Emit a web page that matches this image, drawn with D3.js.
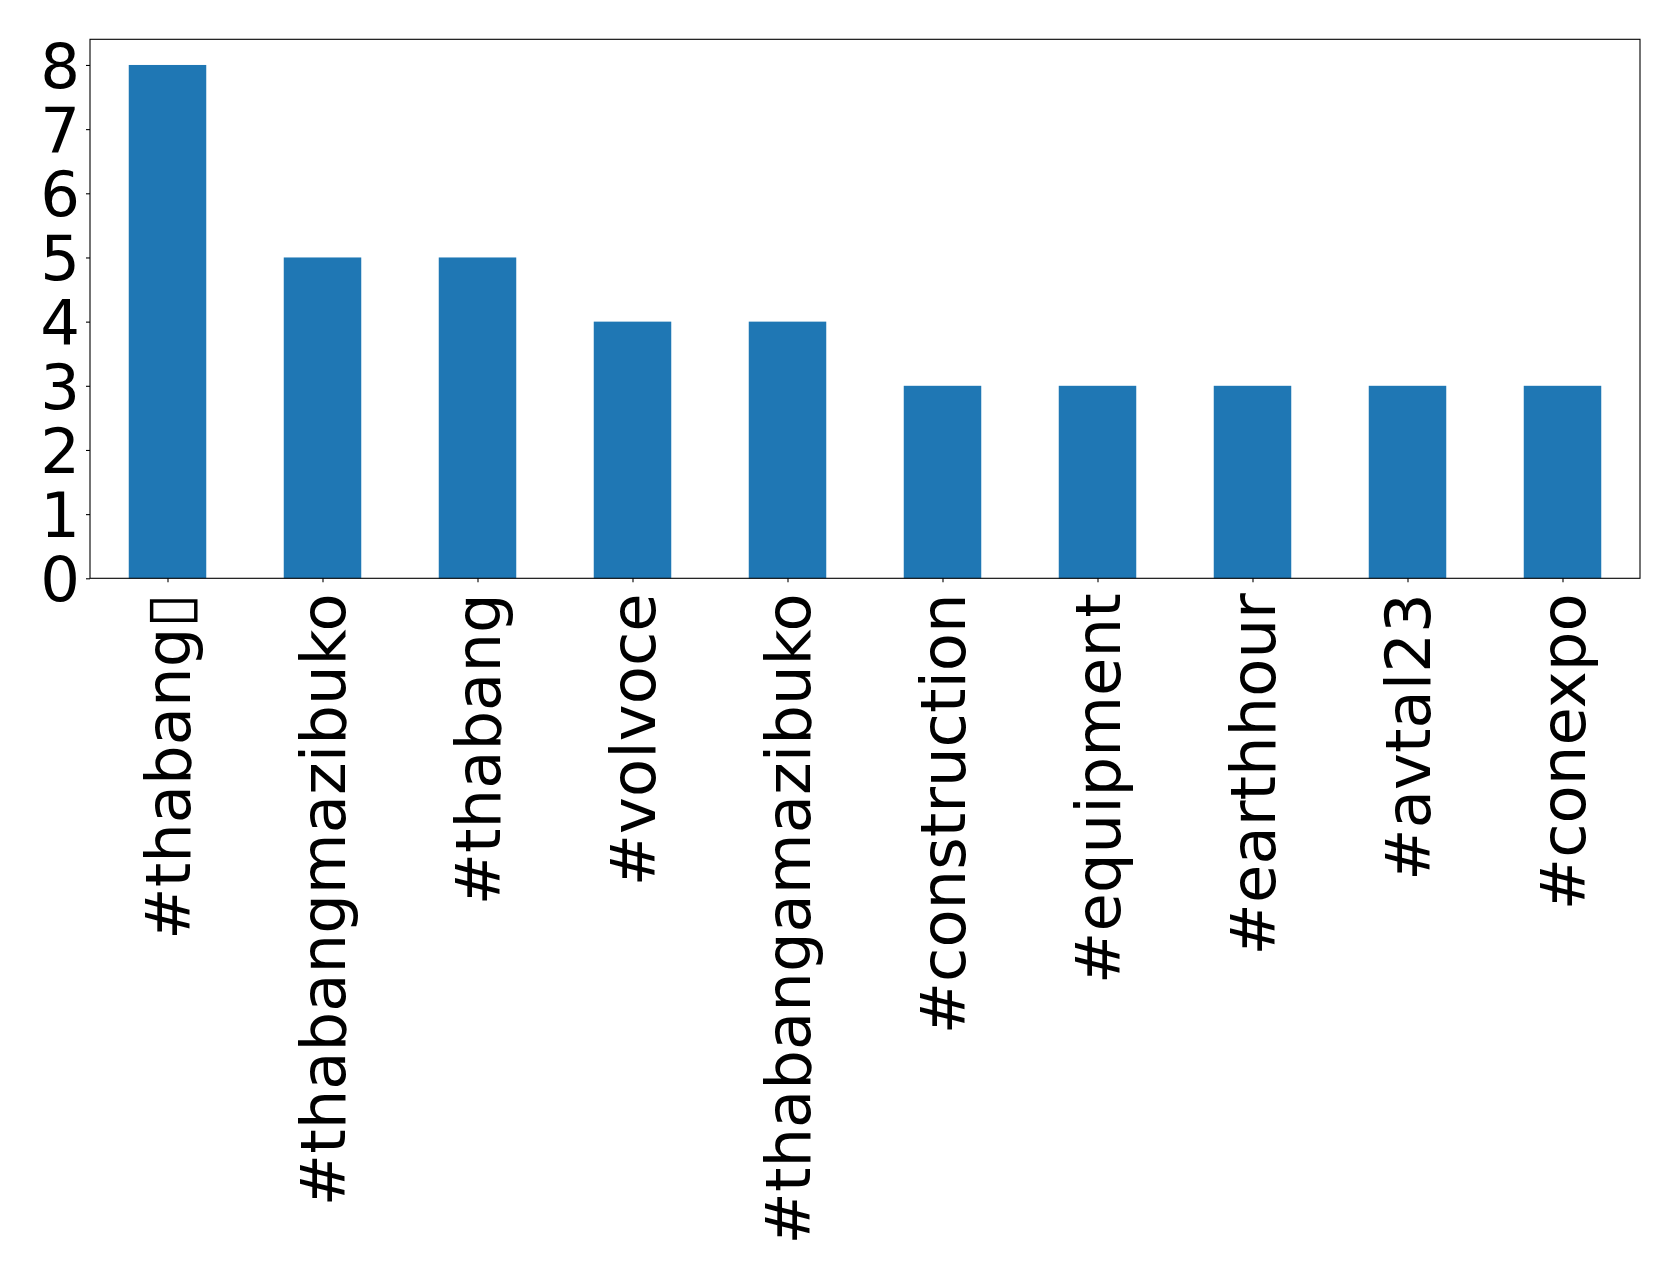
<!DOCTYPE html>
<html>
<head>
<meta charset="utf-8">
<script src="https://cdn.jsdelivr.net/npm/d3@7"></script>
<style>
html,body{margin:0;padding:0;background:#fff;}
svg text{font-family:"DejaVu Sans";fill:#000;}
</style>
</head>
<body>
<svg id="chart" width="1679" height="1278"></svg>
<script>
const categories = ["#thabang\u25AF", "#thabangmazibuko", "#thabang", "#volvoce", "#thabangamazibuko", "#construction", "#equipment", "#earthhour", "#avtal23", "#conexpo"];
const values = [8, 5, 5, 4, 4, 3, 3, 3, 3, 3];
const yTicks = [0, 1, 2, 3, 4, 5, 6, 7, 8];

const svg = d3.select("#chart");
const mLeft = 90, mRight = 1640, mTop = 39.3, mBottom = 578.3;
const fontSize = 62.5;

const x = d3.scaleLinear().domain([-0.5, categories.length - 0.5]).range([mLeft, mRight]);
const y = d3.scaleLinear().domain([0, 8.4]).range([mBottom, mTop]);

svg.append("g").selectAll("rect").data(values).join("rect")
  .attr("x", (d, i) => x(i - 0.25))
  .attr("width", (d, i) => x(i + 0.25) - x(i - 0.25))
  .attr("y", d => y(d))
  .attr("height", d => y(0) - y(d))
  .attr("fill", "#1f77b4");

// frame
svg.append("rect").attr("x", mLeft).attr("y", mTop).attr("width", mRight - mLeft).attr("height", mBottom - mTop)
  .attr("fill", "none").attr("stroke", "#000").attr("stroke-width", 1.1);

// y axis
const yAxis = svg.append("g").attr("transform", `translate(${mLeft},0)`)
  .call(d3.axisLeft(y).tickValues(yTicks).tickFormat(d3.format("d")).tickSize(4).tickPadding(6));
yAxis.select(".domain").remove();
yAxis.selectAll("line").attr("stroke", "#000").attr("stroke-width", 1.1);
yAxis.selectAll("text").attr("font-size", fontSize).attr("font-family", "DejaVu Sans").attr("dy", "0.36em");

// x axis
const xAxis = svg.append("g").attr("transform", `translate(0,${mBottom})`)
  .call(d3.axisBottom(x).tickValues(d3.range(categories.length)).tickFormat(i => categories[i]).tickSize(4).tickPadding(0));
xAxis.select(".domain").remove();
xAxis.selectAll("line").attr("stroke", "#000").attr("stroke-width", 1.1);
xAxis.selectAll("text")
  .attr("font-size", fontSize).attr("font-family", "DejaVu Sans")
  .attr("text-anchor", "end")
  .attr("transform", "translate(0,15) rotate(-90)")
  .attr("x", 0).attr("y", 0).attr("dy", "0.35em");
</script>
</body>
</html>
